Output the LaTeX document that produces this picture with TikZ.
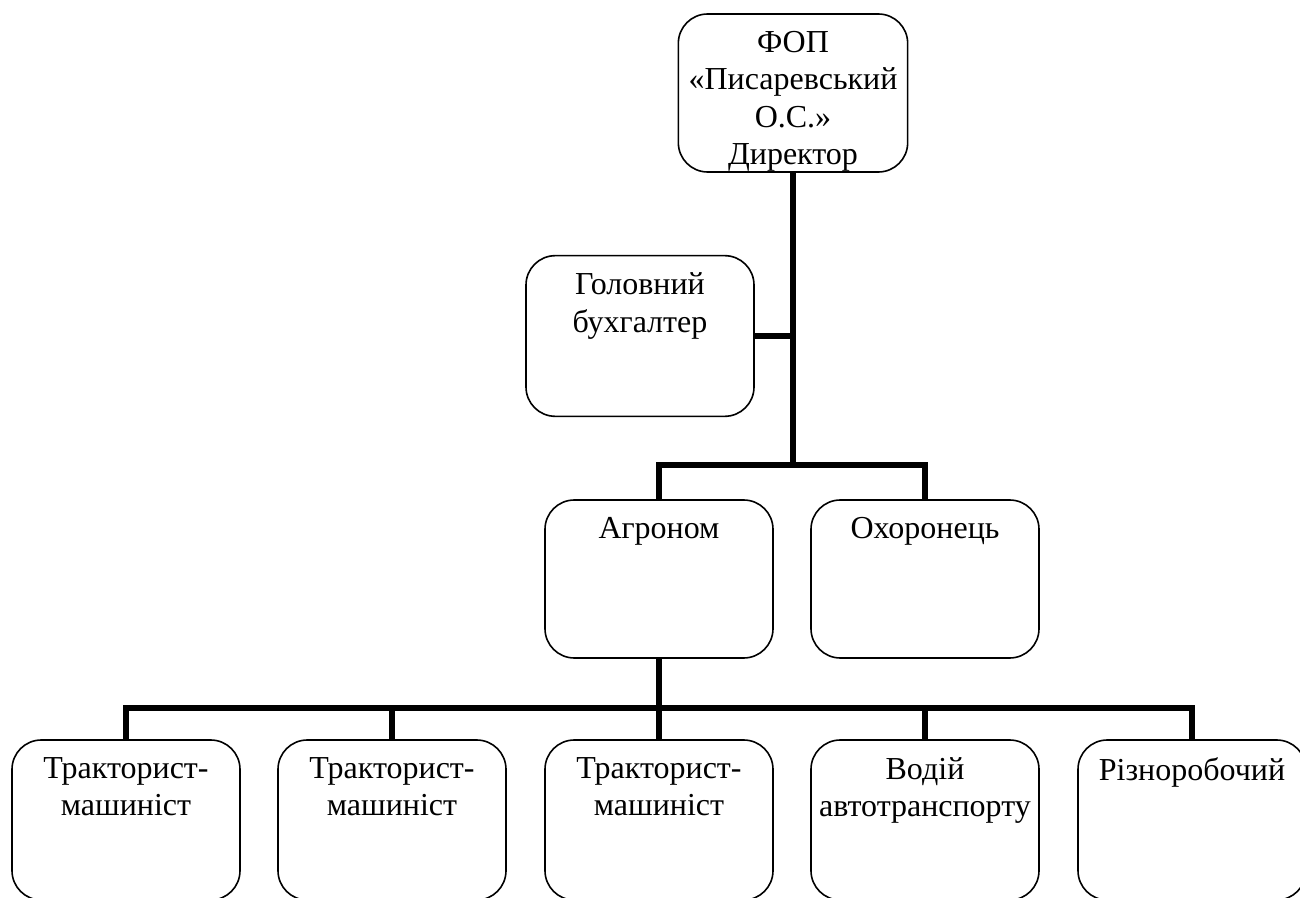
\documentclass[tikz,border=0pt]{standalone}
\usepackage{fontspec}
\setmainfont{Liberation Serif}
\newcommand{\bxt}[3]{\begin{minipage}[c][#2][t]{#1}\centering\fontsize{24}{28}\selectfont\vspace*{13pt}#3\par\end{minipage}}
\tikzset{
  orgbox/.style={draw, line width=1.2pt, rounded corners=22pt, inner sep=0pt, fill=white},
  conn/.style={line width=4.5pt, line join=miter}
}
\begin{document}
\begin{tikzpicture}[x=0.75pt,y=-0.75pt]
\useasboundingbox (0,0) rectangle (1300,898);
\clip (0,0) rectangle (1300,898);
\fill[white] (0,0) rectangle (1300,898);
% nodes
\node[orgbox] (top) at (793,93) {\bxt{172pt}{118.5pt}{ФОП\\«Писаревський\\О.С.»\\Директор}};
\node[orgbox] (glav) at (640,336) {\bxt{171pt}{120.5pt}{Головний\\бухгалтер}};
\node[orgbox] (agr) at (659,579) {\bxt{171pt}{118.5pt}{Агроном}};
\node[orgbox] (okh) at (925,579) {\bxt{171pt}{118.5pt}{Охоронець}};
\node[orgbox] (b1) at (126,820) {\bxt{171pt}{120pt}{Тракторист-\\машиніст}};
\node[orgbox] (b2) at (392,820) {\bxt{171pt}{120pt}{Тракторист-\\машиніст}};
\node[orgbox] (b3) at (659,820) {\bxt{171pt}{120pt}{Тракторист-\\машиніст}};
\node[orgbox] (b4) at (925,820) {\bxt{171pt}{120pt}{Водій\\автотранспорту}};
\node[orgbox] (b5) at (1192,820) {\bxt{171pt}{120pt}{Різноробочий}};
% junctions
\coordinate (j1) at (793,465);
\coordinate (j2) at (659,708);
% connectors
\draw[conn] (top.south) -- (j1);
\draw[conn] (glav.east) -- (glav.east -| j1);
\draw[conn] (agr.north) |- (j1) -| (okh.north);
\draw[conn] (agr.south) -- (j2);
\draw[conn] (b1.north) |- (j2) -| (b5.north);
\draw[conn] (b2.north) -- (b2.north |- j2);
\draw[conn] (b3.north) -- (j2);
\draw[conn] (b4.north) -- (b4.north |- j2);
\end{tikzpicture}
\end{document}
